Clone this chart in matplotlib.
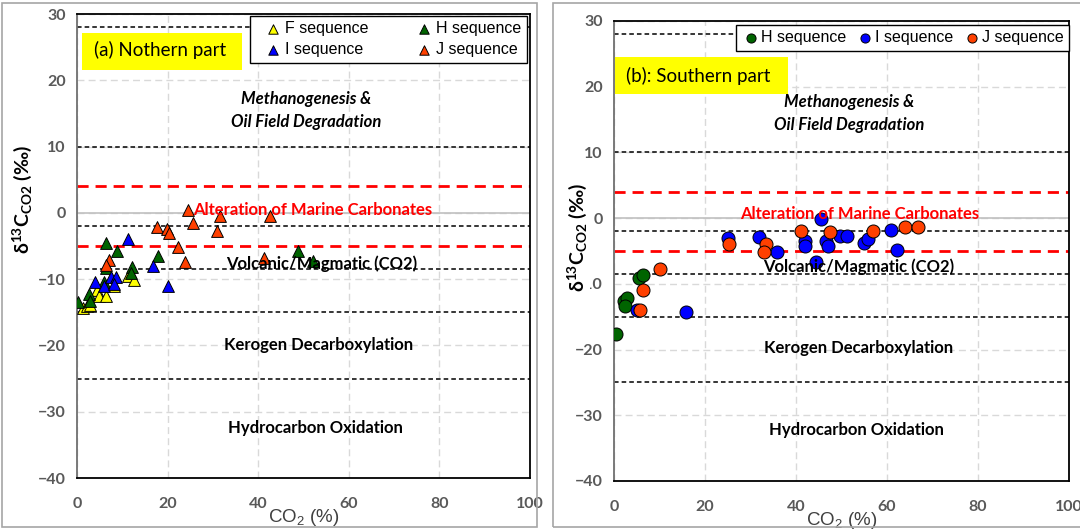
import matplotlib
matplotlib.use("Agg")
import matplotlib.pyplot as plt
from matplotlib.patches import Rectangle

plt.rcParams['font.family'] = ['Lato', 'DejaVu Sans']
plt.rcParams['mathtext.fontset'] = 'custom'
plt.rcParams['mathtext.rm'] = 'Liberation Sans'
plt.rcParams['mathtext.bf'] = 'Lato:bold'
plt.rcParams['mathtext.it'] = 'Lato:italic'

# northern part (triangles)
nf_x = [1.3, 2.2, 2.8, 4.4, 4.8, 6.5, 8.1, 11.3, 12.6]
nf_y = [-14.35, -14.1, -13.85, -11.7, -12.5, -12.6, -11.1, -9.5, -10.1]
nh_x = [0.2, 2.6, 2.8, 6.3, 8.9, 12.2, 11.9, 17.9, 48.8, 52.0, 6.3, 6.0]
nh_y = [-13.4, -12.2, -13.25, -4.5, -5.75, -8.2, -9.0, -6.45, -5.7, -7.2, -8.3, -10.5]
ni_x = [11.3, 16.7, 20.1, 3.9, 5.9, 7.6, 8.7, 8.1]
ni_y = [-4.0, -8.0, -11.0, -10.5, -11.1, -9.7, -9.7, -10.7]
nj_x = [7.0, 6.3, 17.6, 19.9, 20.4, 24.4, 25.6, 22.2, 23.9, 31.5, 31.0, 42.5, 41.2]
nj_y = [-7.1, -7.85, -2.2, -2.5, -3.0, 0.5, -1.5, -5.2, -7.35, -0.5, -2.7, -0.5, -6.85]

# southern part (circles)
sh_x = [0.4, 2.2, 2.9, 2.4, 5.6, 6.3]
sh_y = [-17.6, -12.55, -12.1, -13.3, -9.1, -8.7]
si_x = [5.0, 15.8, 25.1, 31.9, 35.9, 41.9, 41.9, 45.5, 44.5, 46.5, 47.0, 49.6, 51.2,
        55.0, 55.8, 60.8, 62.3]
si_y = [-14.0, -14.3, -2.96, -2.8, -5.2, -3.5, -4.3, -0.1, -6.7, -3.5, -4.3, -2.7, -2.7,
        -3.8, -3.2, -1.8, -4.8]
sj_x = [10.0, 6.3, 5.7, 25.3, 33.3, 33.0, 41.2, 47.4, 56.9, 64.0, 66.9]
sj_y = [-7.8, -10.9, -14.0, -3.9, -3.9, -5.2, -1.9, -2.05, -2.0, -1.4, -1.4]

# source field boundaries
black_lines = [28, 10, -2, -8.5, -15, -25]
red_lines = [4, -5]

C_F, C_H, C_I, C_J = '#ffff00', '#006400', '#0000ff', '#ff4000'
TICK_GREY = '#595959'

fig = plt.figure(figsize=(10.8, 5.3), dpi=100)

# chart area borders
fig.patches.append(Rectangle((2 / 1080, 3 / 530), 535 / 1080, 524 / 530, transform=fig.transFigure,
                             fill=False, edgecolor='#a6a6a6', lw=1.2))
fig.patches.append(Rectangle((553 / 1080, 3 / 530), 600 / 1080, 524 / 530, transform=fig.transFigure,
                             fill=False, edgecolor='#a6a6a6', lw=1.2))

ax1 = fig.add_axes([77 / 1080, 1 - 478 / 530, 453 / 1080, 464 / 530])
ax2 = fig.add_axes([614 / 1080, 1 - 481 / 530, 455 / 1080, 460 / 530])


def setup(ax):
    ax.set_xlim(0, 100)
    ax.set_ylim(-40, 30)
    ax.set_xticks(range(0, 101, 20))
    ax.set_yticks(range(-40, 31, 10))
    ax.grid(True, color='#d9d9d9', ls=(0, (5, 3)), lw=1)
    ax.set_axisbelow(True)
    ax.axhline(0, color='#c0c0c0', lw=1.2, zorder=1)
    for y in black_lines:
        ax.axhline(y, color='black', ls=(0, (3, 2)), lw=1.1, zorder=2)
    for y in red_lines:
        ax.axhline(y, color='#ff0000', ls=(0, (4, 2.5)), lw=2, zorder=2)
    for s in ax.spines.values():
        s.set_color('black')
        s.set_linewidth(1.3)
    ax.spines['left'].set_color('#707070')
    ax.tick_params(length=0, labelsize=11.5, labelcolor=TICK_GREY)
    ax.tick_params(axis='y', pad=8)
    ax.tick_params(axis='x', pad=14)
    for lab in ax.get_xticklabels() + ax.get_yticklabels():
        lab.set_fontweight('bold')
    ax.set_xlabel('CO$_2$ (%)', family='Liberation Sans', fontsize=13.5, color='#404040', labelpad=-3)
    ax.set_ylabel(r'$\mathbf{\delta^{13}C_{CO2}}$ $\mathbf{(‰)}$', fontsize=14,
                  bbox=dict(facecolor='white', edgecolor='none', pad=1))
    kw = dict(ha='center', va='center', fontsize=12, fontweight='bold', zorder=6)
    return kw


kw = setup(ax1)
ax1.yaxis.set_label_coords(-0.094, 0.6)
ax1.add_patch(Rectangle((1, 21.6), 35.5, 5.6, facecolor='#ffff00', edgecolor='none', zorder=3))
ax1.text(18.4, 24.5, '(a) Nothern part', ha='center', va='center', fontsize=13.5, zorder=4)
ax1.text(50.6, 17.2, 'Methanogenesis &', style='italic', **kw)
ax1.text(50.6, 13.7, 'Oil Field Degradation', style='italic', **kw)
ax1.text(52, 0.5, 'Alteration of Marine Carbonates', color='#ff0000', **kw)
ax1.text(53.9, -7.6, 'Volcanic/Magmatic (CO2)', **kw)
ax1.text(53.3, -19.9, 'Kerogen Decarboxylation', **kw)
ax1.text(52.6, -32.4, 'Hydrocarbon Oxidation', **kw)

tri = dict(marker='^', s=72, edgecolors='black', linewidths=0.7, zorder=5)
ax1.scatter(nf_x, nf_y, c=C_F, label='F sequence', **tri)
ax1.scatter(nh_x, nh_y, c=C_H, label='H sequence', **tri)
ax1.scatter(ni_x, ni_y, c=C_I, label='I sequence', **tri)
ax1.scatter(nj_x, nj_y, c=C_J, label='J sequence', **tri)
h, l = ax1.get_legend_handles_labels()
leg1 = ax1.legend([h[0], h[2], h[1], h[3]], [l[0], l[2], l[1], l[3]], ncol=2,
                  loc='upper right', bbox_to_anchor=(0.994, 0.996), borderaxespad=0,
                  prop=dict(family='Liberation Sans', size=11.5), fancybox=False,
                  edgecolor='black', framealpha=1, handletextpad=-0.35, handlelength=2.2,
                  columnspacing=2.4, labelspacing=0.35, markerscale=0.8, borderpad=0.35)
leg1.get_frame().set_linewidth(1.0)
leg1.set_zorder(7)

kw = setup(ax2)
ax2.yaxis.set_label_coords(-0.055, 0.53)
ax2.add_patch(Rectangle((0.2, 18.9), 38, 5.6, facecolor='#ffff00', edgecolor='none', zorder=3))
ax2.text(18.4, 21.7, '(b): Southern part', ha='center', va='center', fontsize=13.5, zorder=4)
ax2.text(51.6, 17.6, 'Methanogenesis &', style='italic', **kw)
ax2.text(51.6, 14.1, 'Oil Field Degradation', style='italic', **kw)
ax2.text(54, 0.6, 'Alteration of Marine Carbonates', color='#ff0000', **kw)
ax2.text(53.7, -7.4, 'Volcanic/Magmatic (CO2)', **kw)
ax2.text(53.8, -19.8, 'Kerogen Decarboxylation', **kw)
ax2.text(53.2, -32.3, 'Hydrocarbon Oxidation', **kw)

dot = dict(marker='o', s=88, edgecolors='black', linewidths=0.7, zorder=5)
ax2.scatter(sh_x, sh_y, c=C_H, label='H sequence', **dot)
ax2.scatter(si_x, si_y, c=C_I, label='I sequence', **dot)
ax2.scatter(sj_x, sj_y, c=C_J, label='J sequence', **dot)
leg2 = ax2.legend(ncol=3, loc='upper right', bbox_to_anchor=(1.0, 0.992), borderaxespad=0,
                  prop=dict(family='Liberation Sans', size=11.5), fancybox=False,
                  edgecolor='black', framealpha=1, handletextpad=0.0, handlelength=1.2,
                  columnspacing=0.6, markerscale=0.7, borderpad=0.35)
leg2.get_frame().set_linewidth(1.0)
leg2.set_zorder(7)

fig.savefig('out.png', dpi=100)
